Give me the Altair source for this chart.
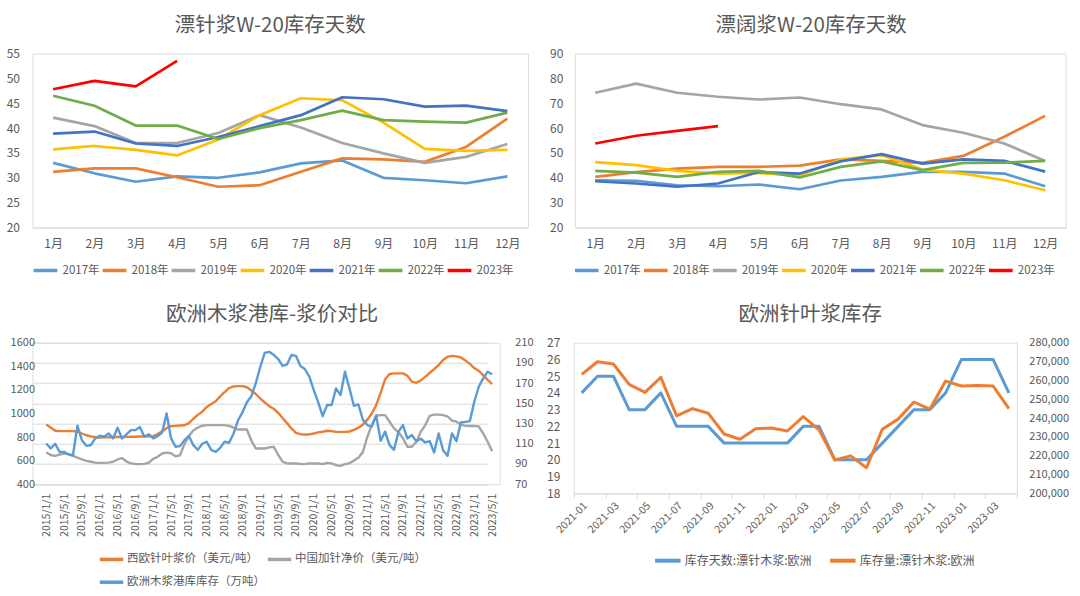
import altair as alt
import pandas as pd

FONT = "Noto Sans CJK SC"
TXT = "#595959"
GRID = "#D9D9D9"

# ---------------- Panel 1 / 2 : monthly seasonal lines ----------------
month_idx = list(range(1, 13))
years = ["2017年", "2018年", "2019年", "2020年", "2021年", "2022年", "2023年"]
year_colors = ["#5B9BD5", "#ED7D31", "#A5A5A5", "#FFC000", "#4472C4", "#70AD47", "#FF0000"]

# 漂针浆W-20库存天数
sw_2017 = [33.0, 30.9, 29.2, 30.3, 30.0, 31.1, 32.9, 33.5, 30.0, 29.5, 28.9, 30.3]
sw_2018 = [31.2, 31.9, 31.9, 30.1, 28.2, 28.5, 31.2, 33.9, 33.7, 33.2, 36.2, 41.9]
sw_2019 = [42.1, 40.4, 37.0, 37.0, 39.0, 42.6, 40.1, 37.0, 34.9, 33.0, 34.2, 36.8]
sw_2020 = [35.7, 36.4, 35.6, 34.5, 37.7, 42.6, 46.0, 45.6, 41.1, 35.8, 35.4, 35.6]
sw_2021 = [38.9, 39.3, 36.9, 36.4, 38.2, 40.4, 42.6, 46.2, 45.8, 44.3, 44.5, 43.4]
sw_2022 = [46.5, 44.5, 40.5, 40.5, 37.8, 40.0, 41.6, 43.5, 41.6, 41.3, 41.1, 43.1]
sw_2023 = [47.8, 49.5, 48.4, 53.5]

# 漂阔浆W-20库存天数
hw_2017 = [39.0, 38.8, 37.0, 36.6, 37.3, 35.4, 38.9, 40.4, 42.4, 42.4, 41.7, 36.6]
hw_2018 = [40.4, 42.3, 43.7, 44.4, 44.4, 44.9, 47.4, 46.8, 46.0, 48.8, 56.5, 64.9]
hw_2019 = [74.2, 77.9, 74.2, 72.6, 71.5, 72.3, 69.6, 67.5, 61.2, 58.1, 53.8, 46.8]
hw_2020 = [46.3, 45.1, 42.8, 41.7, 42.0, 40.9, 47.4, 49.1, 43.3, 41.7, 39.0, 35.0]
hw_2021 = [38.6, 37.7, 36.4, 37.7, 42.3, 41.7, 46.6, 49.5, 45.7, 47.4, 46.8, 42.5]
hw_2022 = [42.8, 42.1, 40.4, 42.4, 42.8, 40.1, 44.4, 46.6, 43.1, 46.0, 46.1, 46.8]
hw_2023 = [53.8, 56.9, 58.9, 60.8]

# ---------------- Panel 3 : monthly 2015/1 .. 2023/5 ----------------
p3_names = ["西欧针叶浆价（美元/吨）", "中国加针净价（美元/吨）", "欧洲木浆港库库存（万吨）"]
p3_colors = ["#ED7D31", "#A5A5A5", "#5B9BD5"]

p3_west_price = [
    907, 880, 853, 850, 850, 850, 850, 845, 830, 815,
    805, 798, 796, 797, 798, 800, 800, 800, 801, 802,
    803, 804, 805, 806, 808, 825, 848, 875, 892, 895,
    898, 900, 918, 955, 988, 1015, 1055, 1080, 1103, 1145,
    1180, 1214, 1229, 1232, 1232, 1222, 1195, 1165, 1127, 1094,
    1062, 1040, 1006, 961, 918, 873, 836, 824, 822, 822,
    830, 839, 845, 853, 850, 844, 844, 844, 847, 860,
    878, 905, 945, 1000, 1071, 1175, 1290, 1335, 1340, 1340,
    1340, 1320, 1270, 1260, 1280, 1310, 1345, 1375, 1410, 1453,
    1480, 1488, 1484, 1475, 1450, 1420, 1385, 1362, 1325, 1285,
    1248,
]
p3_china_price = [
    669, 648, 640, 652, 660, 655, 640, 625, 610, 598,
    590, 583, 581, 581, 583, 590, 610, 622, 592, 577,
    571, 570, 572, 582, 615, 633, 660, 668, 662, 636,
    645, 740, 810, 855, 880, 896, 901, 901, 901, 901,
    901, 895, 880, 864, 864, 864, 770, 703, 703, 703,
    712, 718, 650, 592, 576, 576, 576, 572, 570, 576,
    576, 576, 570, 581, 576, 561, 555, 570, 578, 600,
    625, 672, 800, 900, 980, 986, 986, 930, 873, 840,
    790, 717, 717, 759, 844, 900, 980, 990, 990, 986,
    975, 940, 930, 905, 895, 893, 893, 890, 830, 760,
    680,
]
p3_port_stock = [
    110.3, 105.4, 110.0, 102.0, 102.0, 99.4, 98.7, 127.8, 113.6, 108.0,
    108.6, 115.3, 118.0, 117.0, 120.2, 115.3, 125.8, 115.3, 119.2, 123.5,
    123.5, 126.5, 117.0, 119.5, 115.3, 117.6, 121.2, 140.0, 115.3, 107.0,
    107.7, 113.6, 117.6, 108.6, 104.0, 110.0, 112.0, 104.0, 102.0, 106.0,
    112.0, 111.0, 120.0, 133.0, 141.0, 151.0, 157.0, 170.0, 186.0, 200.0,
    201.0, 198.0, 194.0, 187.0, 188.5, 197.8, 197.0, 187.0, 184.0, 176.4,
    163.0, 151.0, 137.4, 148.3, 148.3, 164.8, 158.2, 181.3, 164.8, 147.6,
    148.9, 134.0, 128.5, 127.0, 138.0, 113.0, 122.0, 108.6, 104.0, 122.0,
    128.5, 115.3, 118.6, 112.6, 115.0, 111.3, 112.6, 101.4, 120.2, 103.7,
    98.1, 120.2, 112.6, 131.1, 131.7, 132.4, 151.6, 166.4, 174.7, 181.3,
    178.7,
]

# ---------------- Panel 4 : 2021-01 .. 2023-04 ----------------
p4_names = ["库存天数:漂针木浆:欧洲", "库存量:漂针木浆:欧洲"]
p4_colors = ["#5B9BD5", "#ED7D31"]
p4_days = [24, 25, 25, 23, 23, 24, 22, 22, 22, 21, 21, 21, 21, 21,
           22, 22, 20, 20, 20, 21, 22, 23, 23, 24, 26, 26, 26, 24]
p4_volume = [263200, 269900, 268700, 257900, 253600, 261600, 241100, 245000,
             242500, 231500, 228700, 234300, 234700, 233100, 240700, 233700,
             217700, 219900, 213600, 234000, 239400, 248500, 244700, 259600,
             257000, 257200, 257000, 245000]


def title_params(text, dx):
    return alt.TitleParams(text, font=FONT, fontSize=20.5, fontWeight="normal",
                           color=TXT, frame="group", anchor="middle", dx=dx, offset=11)


# ---------------- panel 1 / 2 ----------------
def season_df(series):
    rows = []
    for name, vals in zip(years, series):
        for i, v in enumerate(vals):
            rows.append({"m": month_idx[i], "yr": name, "v": v})
    return pd.DataFrame(rows)


def season_panel(df, title, ydom, ystep, width, title_dx, lab_pad, leg_x):
    legend = alt.Legend(
        orient="none", legendX=leg_x, legendY=203, direction="horizontal",
        columns=7, title=None, symbolType="stroke", symbolSize=560,
        symbolStrokeWidth=3.5, labelFont=FONT, labelFontSize=11.5,
        labelColor=TXT, columnPadding=-5, labelOffset=3,
    )
    return alt.Chart(df).mark_line(strokeWidth=2.7, strokeJoin="round").encode(
        x=alt.X("m:Q",
                scale=alt.Scale(domain=[0.5, 12.5], nice=False, zero=False),
                axis=alt.Axis(values=month_idx, labelExpr="datum.value + '月'",
                              title=None, grid=False, ticks=False, domain=True,
                              domainColor=GRID, domainWidth=1, labelPadding=11,
                              labelFont=FONT, labelFontSize=12, labelColor=TXT)),
        y=alt.Y("v:Q",
                scale=alt.Scale(domain=ydom, nice=False, zero=False),
                axis=alt.Axis(values=list(range(ydom[0], ydom[1] + 1, ystep)),
                              title=None, grid=False, ticks=False, domain=False,
                              labelPadding=lab_pad, labelFont=FONT,
                              labelFontSize=12, labelColor=TXT)),
        color=alt.Color("yr:N", scale=alt.Scale(domain=years, range=year_colors),
                        legend=legend),
    ).properties(width=width, height=174, title=title_params(title, title_dx))


p1 = season_panel(season_df([sw_2017, sw_2018, sw_2019, sw_2020, sw_2021, sw_2022, sw_2023]),
                  "漂针浆W-20库存天数", [20, 55], 5, 495.5, -10, 13, -1)
p2 = season_panel(season_df([hw_2017, hw_2018, hw_2019, hw_2020, hw_2021, hw_2022, hw_2023]),
                  "漂阔浆W-20库存天数", [20, 90], 10, 490.8, -9, 12, -2)

# ---------------- panel 3 ----------------
n3 = len(p3_west_price)
idx3 = list(range(n3))
df3a = pd.DataFrame({
    "i": idx3 + idx3,
    "s": [p3_names[0]] * n3 + [p3_names[1]] * n3,
    "price": p3_west_price + p3_china_price,
})
df3b = pd.DataFrame({"i": idx3, "s": [p3_names[2]] * n3, "stock": p3_port_stock})

x3 = alt.X("i:Q",
           scale=alt.Scale(domain=[-0.5, 101.7], range=[11.5, 467.2], nice=False, zero=False),
           axis=alt.Axis(values=list(range(0, n3, 4)),
                         labelExpr="(2015 + floor(datum.value / 12)) + '/' + ((datum.value % 12) + 1) + '/1'",
                         labelAngle=-90, labelOverlap=False, title=None, grid=False,
                         ticks=False, domain=False, labelFont=FONT, labelFontSize=10.5,
                         labelColor=TXT, labelPadding=9))
color3 = alt.Color("s:N", scale=alt.Scale(domain=p3_names, range=p3_colors),
                   legend=alt.Legend(orient="none", legendX=65.5, legendY=203, columns=2,
                                     direction="horizontal", title=None, symbolType="stroke",
                                     symbolSize=550, symbolStrokeWidth=3.5, labelFont=FONT,
                                     labelFontSize=11.5, labelColor=TXT, columnPadding=-5,
                                     rowPadding=2, labelOffset=2))
left3 = alt.Chart(df3a).mark_line(strokeWidth=2.4, strokeJoin="round").encode(
    x=x3,
    y=alt.Y("price:Q", scale=alt.Scale(domain=[400, 1600], nice=False, zero=False),
            axis=alt.Axis(values=list(range(400, 1601, 200)), format="d", title=None,
                          grid=False, ticks=False, domain=False, offset=-2, labelPadding=0,
                          labelFont=FONT, labelFontSize=11, labelColor=TXT)),
    color=color3,
)
right3 = alt.Chart(df3b).mark_line(strokeWidth=2.4, strokeJoin="round").encode(
    x=x3,
    y=alt.Y("stock:Q", scale=alt.Scale(domain=[70, 210], nice=False, zero=False),
            axis=alt.Axis(orient="right", values=list(range(70, 211, 20)), format="d",
                          title=None, grid=True, gridColor=GRID, gridWidth=1, ticks=False,
                          domain=False, labelPadding=15, labelFont=FONT,
                          labelFontSize=11, labelColor=TXT)),
    color=color3,
)
p3 = alt.layer(left3, right3).resolve_scale(y="independent").properties(
    width=467.2, height=141.5, title=title_params("欧洲木浆港库-浆价对比", 6))

# ---------------- panel 4 ----------------
n4 = len(p4_days)
idx4 = list(range(n4))
df4a = pd.DataFrame({"i": idx4, "s": [p4_names[0]] * n4, "days": p4_days})
df4b = pd.DataFrame({"i": idx4, "s": [p4_names[1]] * n4, "vol": p4_volume})

x4 = alt.X("i:Q",
           scale=alt.Scale(domain=[-0.5, n4 - 0.5], nice=False, zero=False),
           axis=alt.Axis(values=[-0.5 + 2 * k for k in range(15)],
                         labelExpr="datum.value > 27 ? '' : (2021 + floor((datum.value + 0.5) / 12)) + '-' + (((datum.value + 0.5) % 12) < 9 ? '0' : '') + (((datum.value + 0.5) % 12) + 1)",
                         labelAngle=-45, labelOffset=8, labelOverlap=False, title=None,
                         grid=False, ticks=True, tickSize=5, tickColor=GRID, domain=True,
                         domainColor=GRID, labelFont=FONT, labelFontSize=10.5,
                         labelColor=TXT, labelPadding=2))
color4 = alt.Color("s:N", scale=alt.Scale(domain=p4_names, range=p4_colors),
                   legend=alt.Legend(orient="none", legendX=79, legendY=203, columns=2,
                                     direction="horizontal", title=None, symbolType="stroke",
                                     symbolSize=650, symbolStrokeWidth=4, labelFont=FONT,
                                     labelFontSize=12, labelColor=TXT, columnPadding=10,
                                     labelOffset=2))
left4 = alt.Chart(df4a).mark_line(strokeWidth=3, strokeJoin="round").encode(
    x=x4,
    y=alt.Y("days:Q", scale=alt.Scale(domain=[18, 27], nice=False, zero=False),
            axis=alt.Axis(values=list(range(18, 28)), format="d", title=None, grid=False,
                          ticks=False, domain=False, labelPadding=14, labelFont=FONT,
                          labelFontSize=12, labelColor=TXT)),
    color=color4,
)
right4 = alt.Chart(df4b).mark_line(strokeWidth=3, strokeJoin="round").encode(
    x=x4,
    y=alt.Y("vol:Q", scale=alt.Scale(domain=[200000, 280000], nice=False, zero=False),
            axis=alt.Axis(orient="right", values=list(range(200000, 280001, 10000)),
                          format=",d", title=None, grid=False, ticks=False, domain=False,
                          labelPadding=12, labelFont=FONT, labelFontSize=11,
                          labelColor=TXT)),
    color=color4,
)
p4 = alt.layer(left4, right4).resolve_scale(y="independent").properties(
    width=443, height=150.6, title=title_params("欧洲针叶浆库存", 15))

row1 = alt.hconcat(p1, p2, spacing=46.3, bounds="flush").resolve_scale(color="independent")
row2 = alt.hconcat(p3, p4, spacing=73.3, bounds="flush").resolve_scale(color="independent")

chart = alt.vconcat(row1, row2, spacing=289.2, bounds="flush").resolve_scale(
    color="independent"
).properties(
    padding={"left": 5.5, "top": 15.5, "right": 0, "bottom": 0},
    background="white",
).configure_view(stroke=None).configure(font=FONT)

chart.save("out.html", embed_options={"renderer": "svg", "actions": False})
